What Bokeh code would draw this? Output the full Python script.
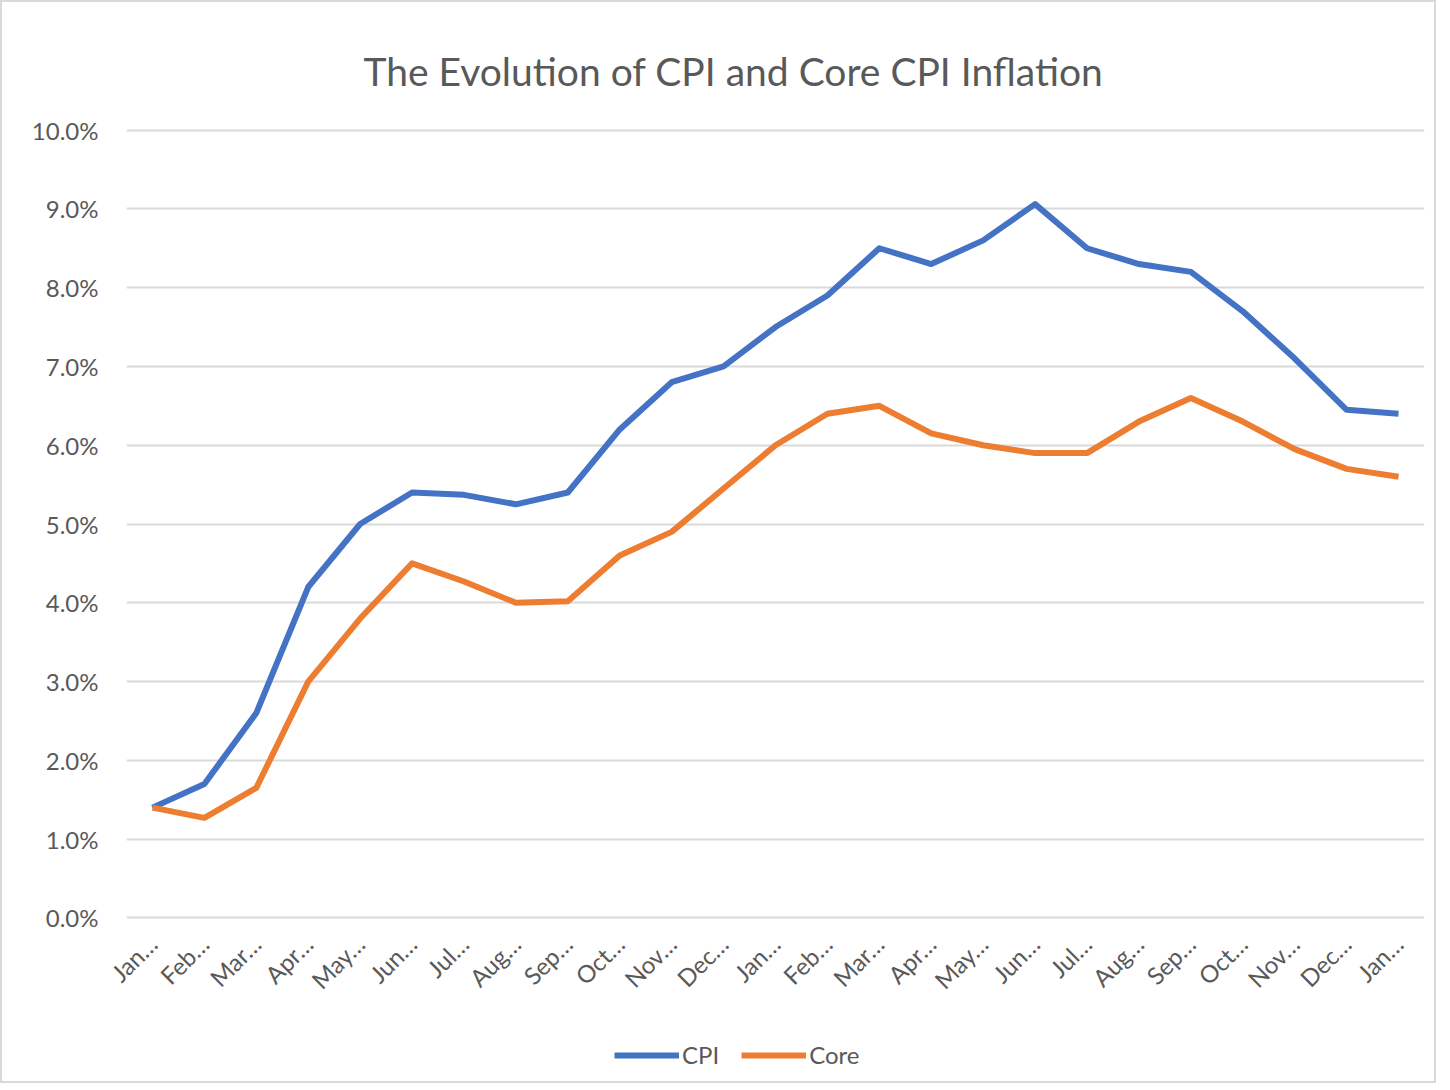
from bokeh.plotting import figure
from bokeh.layouts import column
from bokeh.models import Range1d, FixedTicker, Legend, LegendItem
from bokeh.embed import file_html
from bokeh.resources import INLINE

months = ["Jan…", "Feb…", "Mar…", "Apr…", "May…", "Jun…", "Jul…", "Aug…", "Sep…", "Oct…", "Nov…", "Dec…",
          "Jan…", "Feb…", "Mar…", "Apr…", "May…", "Jun…", "Jul…", "Aug…", "Sep…", "Oct…", "Nov…", "Dec…",
          "Jan…"]
cpi = [1.4, 1.7, 2.6, 4.2, 5.0, 5.4, 5.37, 5.25, 5.4, 6.2, 6.8, 7.0,
       7.5, 7.9, 8.5, 8.3, 8.6, 9.06, 8.5, 8.3, 8.2, 7.7, 7.1, 6.45, 6.4]
core = [1.4, 1.27, 1.65, 3.0, 3.8, 4.5, 4.27, 4.0, 4.02, 4.6, 4.9, 5.45,
        6.0, 6.4, 6.5, 6.15, 6.0, 5.9, 5.9, 6.3, 6.6, 6.3, 5.95, 5.7, 5.6]
y_ticks = [0, 1, 2, 3, 4, 5, 6, 7, 8, 9, 10]
series_names = ["CPI", "Core"]
series_colors = ["#4472C4", "#ED7D31"]

x = list(range(len(months)))
FONT = "Lato"
GRAY = "#595959"

p = figure(frame_width=1298, frame_height=791, output_backend="svg", toolbar_location=None,
           x_range=Range1d(-0.5, len(months) - 0.5), y_range=Range1d(-0.02, 10.02),
           title="The Evolution of CPI and Core CPI Inflation",
           min_border_left=124, min_border_right=10, min_border_top=126, min_border_bottom=83)

p.title.align = "left"
p.title.text_font = FONT
p.title.text_font_size = "39px"
p.title.text_font_style = "normal"
p.title.text_color = GRAY
p.title.standoff = 70
p.title.offset = 237

p.outline_line_color = None
p.xgrid.grid_line_color = None
p.ygrid.grid_line_color = "#d9d9d9"
p.ygrid.grid_line_width = 2

p.yaxis.ticker = FixedTicker(ticks=y_ticks)
p.yaxis.major_label_overrides = {t: f"{t:.1f}%" for t in y_ticks}
p.xaxis.ticker = FixedTicker(ticks=x)
p.xaxis.major_label_overrides = {i: m for i, m in enumerate(months)}
p.xaxis.major_label_orientation = 0.785398

for ax in (p.xaxis, p.yaxis):
    ax.axis_line_color = None
    ax.major_tick_line_color = None
    ax.minor_tick_line_color = None
    ax.major_label_text_font = FONT
    ax.major_label_text_font_size = "24px"
    ax.major_label_text_color = GRAY
p.yaxis.major_label_standoff = 22
p.xaxis.major_label_standoff = 14

r1 = p.line(x, cpi, line_color=series_colors[0], line_width=6, line_join="round")
r2 = p.line(x, core, line_color=series_colors[1], line_width=6, line_join="round")

# legend strip below the chart (same series styles; its sample lines lie outside the strip's view)
lg = figure(width=1432, height=74, output_backend="svg", toolbar_location=None,
            x_range=Range1d(0, 1), y_range=Range1d(0, 1),
            min_border=0, min_border_left=0, min_border_right=0, min_border_top=0, min_border_bottom=0)
lg.axis.visible = False
lg.grid.visible = False
lg.outline_line_color = None
l1 = lg.line([-10, -9], [-10, -10], line_color=series_colors[0], line_width=6)
l2 = lg.line([-10, -9], [-10, -10], line_color=series_colors[1], line_width=6)

legend = Legend(items=[LegendItem(label=series_names[0], renderers=[l1]),
                       LegendItem(label=series_names[1], renderers=[l2])],
                orientation="horizontal", location=(488, 12),
                label_text_font=FONT, label_text_font_size="24px", label_text_color=GRAY,
                glyph_width=65, glyph_height=24, label_standoff=3, spacing=22,
                border_line_color=None, background_fill_alpha=0, margin=0, padding=0)
lg.add_layout(legend, "center")

layout = column(p, lg, spacing=0)
layout.styles = {"border": "2px solid #d9d9d9"}

open("out.html", "w").write(file_html(layout, INLINE))
